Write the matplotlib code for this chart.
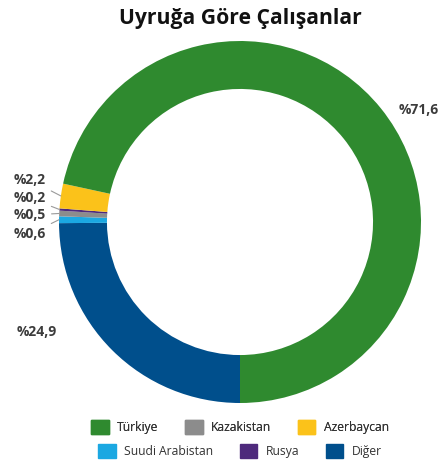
import matplotlib.pyplot as plt
import numpy as np

# Data (clockwise from the bottom of the ring)
labels = ['Diğer', 'Suudi Arabistan', 'Kazakistan', 'Rusya', 'Azerbaycan', 'Türkiye']
values = [24.9, 0.6, 0.5, 0.2, 2.2, 71.6]
colors = ['#004f8c', '#1ba8e2', '#8c8c8c', '#4e2a7c', '#fbc21a', '#2f8a2f']

legend_row1 = ['Türkiye', 'Kazakistan', 'Azerbaycan']
legend_row2 = ['Suudi Arabistan', 'Rusya', 'Diğer']

plt.rcParams['font.family'] = ['Open Sans', 'DejaVu Sans']

W, H = 438, 461
fig = plt.figure(figsize=(W / 100, H / 100), dpi=100)
ax = fig.add_axes([0, 0, 1, 1])

cx, cy, r = 240, H - 222, 181
wedges, _ = ax.pie(values, colors=colors, startangle=270, counterclock=False,
                   center=(cx, cy), radius=r, frame=True,
                   wedgeprops=dict(width=r * 0.265, linewidth=0))
ax.set_xlim(0, W)
ax.set_ylim(0, H)
ax.set_aspect('equal')
ax.axis('off')


def fmt(v):
    return '%' + ('%.1f' % v).replace('.', ',')


# label positions in pixel space (top-left origin)
text_pos = {
    'Diğer': (57, 332, 'right'),
    'Suudi Arabistan': (46, 234, 'right'),
    'Kazakistan': (46, 215, 'right'),
    'Rusya': (46, 198, 'right'),
    'Azerbaycan': (46, 180, 'right'),
    'Türkiye': (399, 110, 'left'),
}
small = ['Suudi Arabistan', 'Kazakistan', 'Rusya', 'Azerbaycan']

for w, lab, val in zip(wedges, labels, values):
    x, y, ha = text_pos[lab]
    ty = H - y
    if lab in small:
        ang = np.deg2rad((w.theta1 + w.theta2) / 2)
        px, py = cx + r * np.cos(ang), cy + r * np.sin(ang)
        ax.annotate(fmt(val), xy=(px, py), xytext=(x, ty), ha=ha, va='center',
                    fontsize=10, fontweight='bold', color='#3c3c3c',
                    arrowprops=dict(arrowstyle='-', color='#9a9a9a', lw=0.8,
                                    shrinkA=2, shrinkB=0))
    else:
        ax.text(x, ty, fmt(val), ha=ha, va='center', fontsize=10,
                fontweight='bold', color='#3c3c3c')

ax.text(cx, H - 18, 'Uyruğa Göre Çalışanlar', ha='center', va='center',
        fontsize=15.2, fontweight='bold', color='#111111')

color_of = dict(zip(labels, colors))


def make_legend(names, y, spacing):
    handles = [plt.Rectangle((0, 0), 1, 1, color=color_of[n]) for n in names]
    leg = fig.legend(handles, names, loc='center', bbox_to_anchor=(cx / W, 1 - y / H),
                     ncol=3, frameon=False, fontsize=8.7, handlelength=1.45,
                     handleheight=1.4, columnspacing=spacing, handletextpad=0.7,
                     labelcolor='#333333')
    return leg


leg1 = make_legend(legend_row1, 427, 2.2)
fig.add_artist(leg1)
make_legend(legend_row2, 451, 2.2)

fig.savefig('out.png', dpi=100)
